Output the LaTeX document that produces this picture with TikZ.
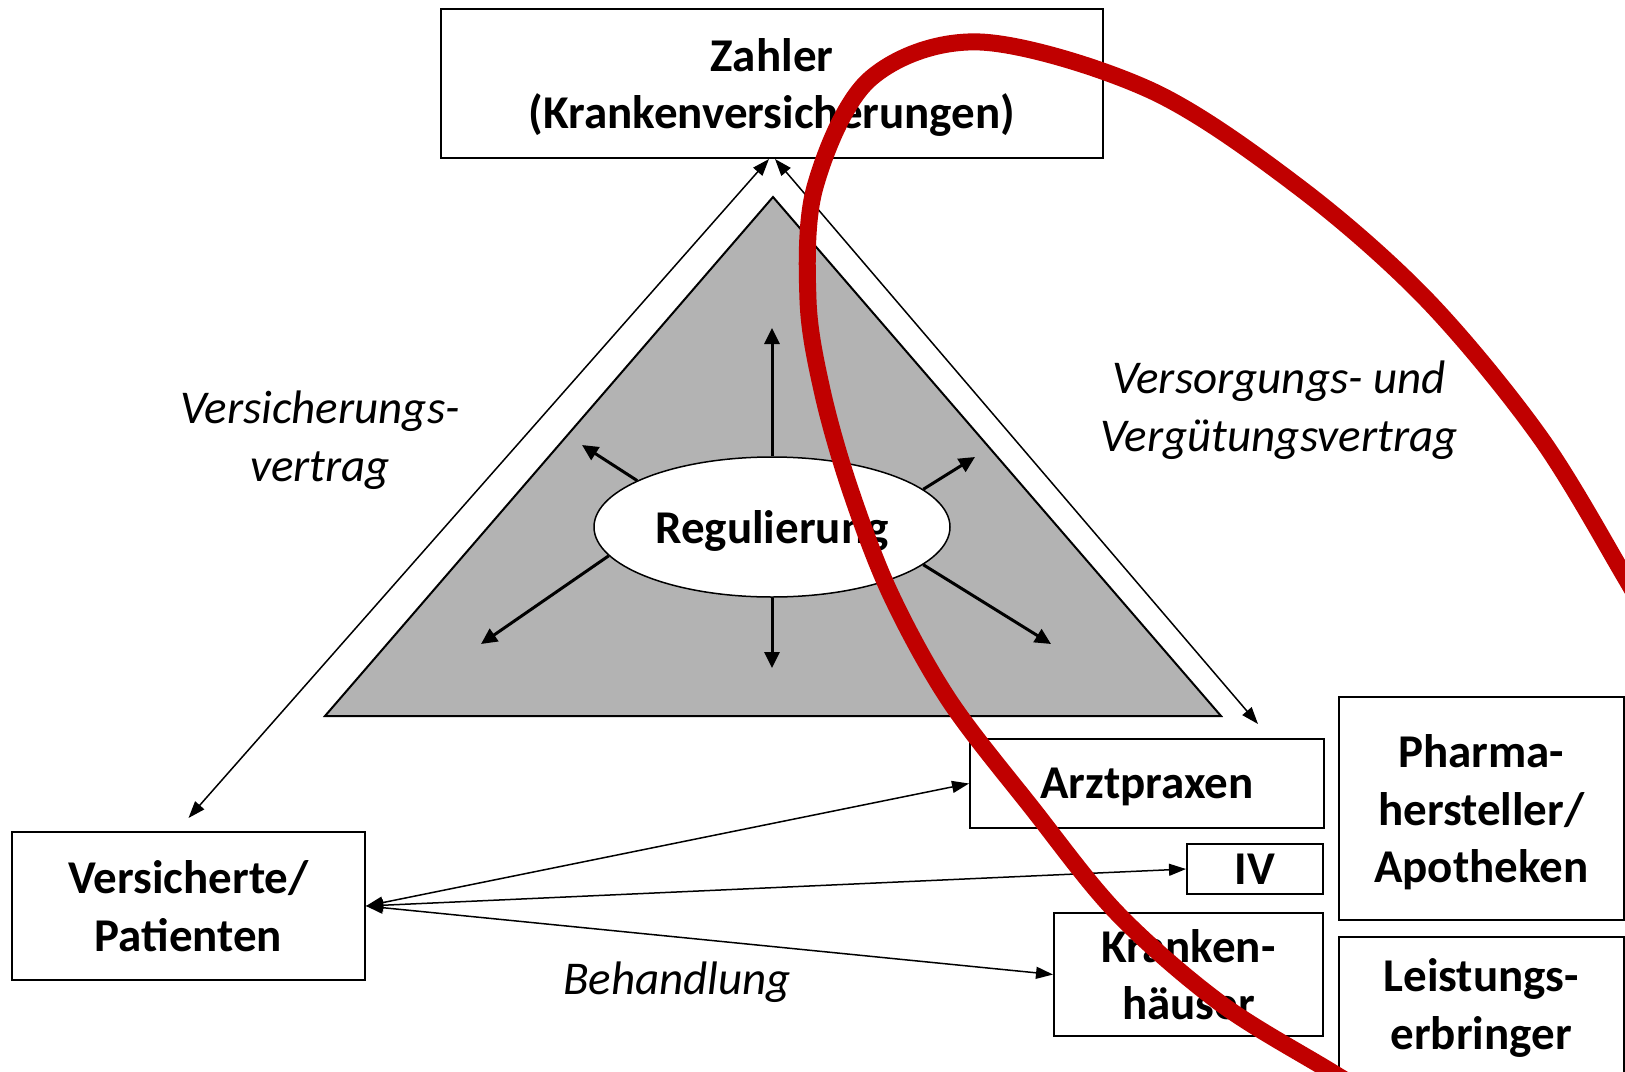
\documentclass[tikz,border=0pt]{standalone}
\usepackage{fontspec}
\setmainfont{Carlito}
\usetikzlibrary{shapes.geometric,arrows.meta}
\definecolor{trigray}{HTML}{B3B3B3}
\definecolor{redline}{HTML}{C00000}
\begin{document}
\begin{tikzpicture}[x=1pt,y=-1pt,
  bigbold/.style={font={\fontsize{47}{57.5}\selectfont\bfseries}},
  bigital/.style={font={\fontsize{47}{57.5}\selectfont\itshape}},
  box/.style={draw,line width=2pt,align=center,inner sep=0pt,bigbold},
  conn/.style={{Triangle[length=17pt,width=12pt]}-{Triangle[length=17pt,width=12pt]},line width=1.5pt},
  ray/.style={-{Triangle[length=16pt,width=15pt]},line width=3pt},
  lbl/.style={align=center,inner sep=0pt,bigital}]
\useasboundingbox[fill=white] (0,0) rectangle (1625,1071);

% regulation triangle
\draw[fill=trigray,line width=2pt,line join=miter] (773,197) -- (325,716) -- (1221,716) -- cycle;

% boxes
\node[box,text depth=0pt,minimum width=662pt,minimum height=149pt] (zahler) at (772,83.5) {Zahler\\(Krankenversicherungen)};
\node[box,minimum width=353pt,minimum height=148pt] (vers) at (188.5,906) {Versicherte/\\Patienten};
\node[box,text depth=0pt,minimum width=354pt,minimum height=89pt] (arzt) at (1147,783.5) {Arztpraxen};
\node[box,minimum width=136pt,minimum height=50pt] (iv) at (1255,869) {IV};
\node[box,minimum width=269pt,minimum height=123pt] (kh) at (1188.5,974.5) {Kranken-\\häuser};
\node[box,text depth=0pt,minimum width=284.5pt,minimum height=223pt] (pharma) at (1481.25,808.5) {Pharma-\\hersteller/\\Apotheken};
\draw[line width=2pt] (1339,1100) -- (1339,937) -- (1623.5,937) -- (1623.5,1100);
\node[align=center,inner sep=0pt,bigbold] (leist) at (1481.25,1008) {Leistungs-\\erbringer};

% regulation ellipse and rays
\node[draw,fill=white,ellipse,line width=1.5pt,minimum width=356pt,minimum height=140pt,inner sep=0pt,bigbold,text depth=0pt] (reg) at (772,527) {Regulierung};
\coordinate (rUp) at (772,328);
\coordinate (rDown) at (772,668);
\coordinate (rUL) at (582,445);
\coordinate (rUR) at (975,457);
\coordinate (rLL) at (481,644);
\coordinate (rLR) at (1051,644);
\draw[ray] (reg.north) -- (rUp);
\draw[ray] (reg.south) -- (rDown);
\draw[ray] (reg.161) -- (rUL);
\draw[ray] (reg.14) -- (rUR);
\draw[ray] (reg.190) -- (rLL);
\draw[ray] (reg.346) -- (rLR);

% contract connectors
\draw[conn] ([xshift=-3pt]zahler.south) -- ([yshift=13pt]vers.north);
\draw[conn] ([xshift=3pt]zahler.south) -- ([xshift=111pt,yshift=14pt]arzt.north);
\draw[conn] (vers.east) -- (arzt.west);
\draw[conn] (vers.east) -- (iv.west);
\draw[conn] (vers.east) -- (kh.west);

% labels
\node[lbl] (lversich) at (320,440) {Versicherungs-\\vertrag};
\node[lbl] (lversorg) at (1279,410) {Versorgungs- und\\Vergütungsvertrag};
\node[lbl] (lbehand) at (677,982) {Behandlung};

% red strike curve
\draw[redline,line width=17pt] plot[smooth,tension=0.55] coordinates {
 (1660,640) (1625,577) (1540,437) (1427,300) (1300,188) (1150,90) (980,42)
 (870,79) (815,187) (808,300) (822,390) (849,486) (890,593) (949,700)
 (1032,808) (1117,913) (1220,1003) (1330,1071) (1420,1125)};
\end{tikzpicture}
\end{document}
